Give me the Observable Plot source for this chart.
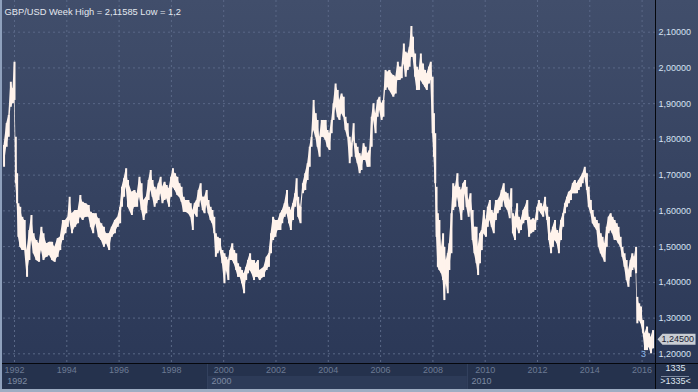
<!DOCTYPE html>
<html><head><meta charset="utf-8">
<script src="https://cdn.jsdelivr.net/npm/d3@7"></script>
<script src="https://cdn.jsdelivr.net/npm/@observablehq/plot@0.6"></script>
<style>
html,body{margin:0;padding:0;background:#25324d;}
#wrap{position:relative;width:698px;height:392px;overflow:hidden;
 background:linear-gradient(to bottom,#414e6b 0px,#2b3857 363px,#25324d 363px,#25324d 392px);}
#wrap svg{position:absolute;left:0;top:0;}
</style></head><body><div id="wrap"></div>
<script>
// Weekly GBP/USD bars: chart position (year), high, low
const weeks = [
1991.60,1991.70,1991.78,1991.86,1991.94,1992.00,1992.05,1992.10,1992.15,1992.22,1992.30,1992.39,1992.48,1992.57,1992.65,1992.73,1992.84,1992.94,
1993.03,1993.11,1993.23,1993.34,1993.44,1993.54,1993.65,1993.75,1993.85,1993.95,1994.04,1994.11,1994.20,1994.32,1994.43,1994.52,1994.61,1994.72,1994.84,1994.92,
1995.01,1995.11,1995.22,1995.32,1995.42,1995.52,1995.62,1995.72,1995.84,1995.95,1996.04,1996.11,1996.19,1996.27,1996.34,
1996.49,1996.59,1996.69,1996.78,1996.86,1996.94,1997.04,1997.13,1997.21,1997.28,1997.36,1997.43,1997.51,1997.59,1997.66,1997.74,1997.82,1997.91,1997.99,
1998.06,1998.14,1998.23,1998.31,1998.39,1998.47,1998.55,1998.65,1998.74,1998.82,1998.89,1998.97,1999.04,1999.12,1999.20,1999.27,1999.35,1999.42,1999.50,1999.57,1999.64,1999.70,1999.77,1999.86,1999.95,
2000.03,2000.10,2000.18,2000.25,2000.33,2000.40,2000.48,2000.55,2000.63,2000.70,2000.78,2000.86,2000.93,2001.01,2001.08,2001.16,2001.23,2001.31,2001.38,
2001.54,2001.64,2001.73,2001.81,2001.89,2001.98,2002.08,2002.17,2002.24,2002.33,2002.42,2002.50,2002.57,2002.65,2002.73,2002.79,2002.85,2002.94,
2003.03,2003.12,2003.21,2003.29,2003.36,2003.44,2003.52,2003.59,2003.67,2003.75,2003.82,2003.90,2003.97,2004.05,2004.13,2004.20,2004.28,2004.36,2004.43,2004.51,2004.59,2004.66,2004.74,2004.82,2004.89,2004.97,
2005.05,2005.12,2005.20,2005.27,2005.35,2005.43,2005.50,2005.58,2005.66,2005.73,2005.81,2005.89,2005.96,2006.04,2006.11,2006.19,2006.27,2006.34,
2006.49,2006.58,2006.66,2006.73,2006.81,2006.89,2006.96,2007.04,2007.11,2007.18,2007.24,2007.32,2007.39,2007.47,2007.54,2007.62,2007.70,2007.77,2007.85,2007.92,2007.99,
2008.04,2008.09,2008.14,2008.19,2008.25,2008.33,2008.39,2008.44,2008.51,2008.57,2008.63,2008.71,2008.78,2008.86,2008.94,2009.01,2009.09,2009.16,2009.23,2009.29,2009.37,2009.44,2009.52,2009.59,2009.67,2009.73,2009.80,2009.87,2009.95,
2010.03,2010.10,2010.18,2010.25,2010.33,2010.41,2010.48,2010.56,2010.63,2010.71,2010.78,2010.86,2010.94,2011.00,2011.06,2011.14,2011.22,2011.29,2011.37,
2011.46,2011.53,2011.61,2011.68,2011.76,2011.84,2011.91,2011.99,2012.06,2012.14,2012.22,2012.29,2012.37,2012.44,2012.52,2012.59,2012.67,2012.75,2012.82,2012.90,2012.98,
2013.05,2013.13,2013.20,2013.28,2013.35,2013.43,2013.51,2013.58,2013.66,2013.73,2013.81,2013.89,2013.96,2014.04,2014.11,2014.19,2014.27,2014.34,2014.42,2014.49,2014.57,2014.65,2014.72,2014.80,2014.87,2014.95,
2015.03,2015.10,2015.18,2015.25,2015.33,2015.41,2015.48,2015.56,2015.63,2015.71,2015.77,2015.82,2015.89,2015.96,2016.04,2016.11,2016.19,2016.27,2016.34,2016.42
];
const highs = [
1.783,1.844,1.867,1.960,1.941,2.016,1.806,1.704,1.620,1.610,1.582,1.573,1.489,1.545,1.587,1.536,1.517,1.508,
1.554,1.536,1.508,1.512,1.512,1.498,1.522,1.526,1.573,1.573,1.582,1.638,1.592,1.601,1.601,1.643,1.624,1.620,1.615,1.596,
1.592,1.592,1.578,1.564,1.554,1.536,1.536,1.554,1.573,1.582,1.610,1.666,1.690,1.718,1.685,
1.652,1.657,1.648,1.694,1.676,1.629,1.638,1.685,1.713,1.685,1.666,1.657,1.676,1.694,1.666,1.680,1.671,1.662,1.694,
1.718,1.704,1.694,1.676,1.666,1.638,1.629,1.629,1.620,1.601,1.620,1.629,1.657,1.676,1.638,1.638,1.657,1.629,1.610,1.601,1.582,1.536,1.526,1.522,1.489,
1.480,1.470,1.461,1.489,1.508,1.489,1.480,1.452,1.442,1.433,1.424,1.442,1.461,1.480,1.461,1.461,1.452,1.461,1.433,
1.442,1.470,1.480,1.536,1.582,1.573,1.573,1.592,1.601,1.620,1.657,1.610,1.601,1.620,1.648,1.690,1.638,1.610,
1.676,1.704,1.732,1.778,1.806,1.909,1.872,1.853,1.806,1.853,1.853,1.853,1.825,1.816,1.853,1.900,1.955,1.937,1.909,1.927,1.918,1.862,1.844,1.806,1.788,1.844,
1.788,1.778,1.760,1.750,1.788,1.778,1.760,1.769,1.862,1.900,1.872,1.909,1.918,1.900,1.909,1.993,1.988,1.993,
1.979,1.974,2.016,2.002,2.002,2.067,2.044,2.039,2.058,2.116,2.086,2.039,2.002,1.993,2.039,2.011,1.993,1.983,2.002,2.016,1.974,
1.872,1.816,1.666,1.592,1.573,1.498,1.536,1.498,1.461,1.480,1.508,1.592,1.676,1.666,1.704,1.666,1.657,1.676,1.685,1.666,1.629,1.648,1.601,1.554,1.554,1.498,1.536,1.545,1.601,
1.573,1.610,1.629,1.601,1.592,1.629,1.629,1.638,1.657,1.676,1.652,1.648,1.629,1.662,1.592,1.582,1.620,1.582,1.573,
1.601,1.610,1.629,1.582,1.573,1.578,1.573,1.610,1.629,1.620,1.610,1.638,1.610,1.582,1.536,1.554,1.573,1.545,1.536,1.573,1.592,
1.620,1.638,1.652,1.657,1.676,1.685,1.676,1.685,1.694,1.704,1.722,1.704,1.666,1.629,1.601,1.582,1.573,1.564,1.536,1.526,1.508,1.554,1.582,1.592,1.582,1.573,
1.564,1.554,1.526,1.498,1.480,1.461,1.433,1.461,1.480,1.470,1.498,1.358,1.340,1.331,1.293,1.256,1.275,1.256,1.246,1.265
];
const lows = [
1.722,1.778,1.806,1.890,1.900,1.909,1.676,1.620,1.526,1.498,1.489,1.489,1.414,1.461,1.517,1.480,1.461,1.456,
1.489,1.461,1.470,1.475,1.461,1.456,1.470,1.489,1.517,1.536,1.554,1.573,1.536,1.554,1.564,1.582,1.573,1.582,1.582,1.554,
1.536,1.564,1.526,1.517,1.498,1.508,1.489,1.526,1.536,1.554,1.564,1.610,1.638,1.666,1.610,
1.587,1.610,1.610,1.638,1.601,1.573,1.592,1.629,1.657,1.638,1.610,1.620,1.629,1.648,1.620,1.629,1.634,1.610,1.638,
1.666,1.657,1.643,1.638,1.624,1.596,1.596,1.592,1.582,1.545,1.592,1.582,1.610,1.629,1.601,1.592,1.615,1.592,1.573,1.564,1.536,1.470,1.480,1.489,1.452,
1.396,1.433,1.405,1.461,1.461,1.452,1.433,1.414,1.414,1.396,1.368,1.405,1.424,1.433,1.424,1.405,1.414,1.414,1.405,
1.414,1.433,1.442,1.480,1.517,1.526,1.545,1.545,1.564,1.582,1.592,1.564,1.545,1.573,1.610,1.629,1.582,1.564,
1.648,1.657,1.685,1.722,1.778,1.825,1.806,1.778,1.750,1.806,1.806,1.797,1.778,1.769,1.816,1.853,1.890,1.862,1.853,1.872,1.862,1.825,1.806,1.732,1.750,1.797,
1.750,1.732,1.704,1.713,1.741,1.741,1.722,1.722,1.778,1.853,1.816,1.862,1.881,1.853,1.862,1.937,1.946,1.937,
1.918,1.927,1.965,1.965,1.970,2.011,1.974,1.993,2.002,2.030,2.030,1.974,1.937,1.937,1.965,1.955,1.946,1.937,1.955,1.965,1.816,
1.750,1.676,1.526,1.442,1.433,1.424,1.405,1.349,1.396,1.368,1.433,1.480,1.601,1.610,1.638,1.610,1.573,1.601,1.648,1.610,1.582,1.601,1.517,1.480,1.452,1.419,1.452,1.489,1.536,
1.526,1.554,1.573,1.554,1.536,1.573,1.592,1.601,1.610,1.629,1.610,1.601,1.578,1.610,1.536,1.517,1.554,1.536,1.545,
1.564,1.573,1.573,1.526,1.536,1.540,1.545,1.573,1.601,1.592,1.582,1.601,1.573,1.517,1.480,1.498,1.517,1.508,1.480,1.517,1.554,
1.592,1.610,1.620,1.629,1.648,1.648,1.648,1.657,1.666,1.676,1.694,1.657,1.610,1.592,1.564,1.554,1.545,1.498,1.480,1.470,1.456,1.498,1.536,1.545,1.536,1.517,
1.517,1.508,1.498,1.470,1.442,1.405,1.386,1.414,1.433,1.442,1.424,1.284,1.293,1.284,1.256,1.209,1.209,1.218,1.200,1.214
];
const yTicks = [1.2,1.3,1.4,1.5,1.6,1.7,1.8,1.9,2.0,2.1];
const xTicks = [1992,1994,1996,1998,2000,2002,2004,2006,2008,2010,2012,2014,2016];
const decadeStarts = [1991.57,1999.38,2009.32];
const decadeEnds = [1999.38,2009.32,2016.52];
const decadeLabels = ["1992","2000","2010"];
const titleText = "GBP/USD Week High = 2,11585 Low = 1,2";
const lastClose = 1.245;
const barCount = "1335";

const data = weeks.map((t,i)=>({t, hi: highs[i], lo: lows[i]}));
const fmtY = d => d.toFixed(5).replace(".", ",");
const FONT = "'Liberation Sans', Arial, sans-serif";
const barColor = "#fff3ec";
const gridColor = "#5a6887";

const tagSymbol = {draw(ctx){ ctx.moveTo(2,0); ctx.lineTo(7,-5.5); ctx.lineTo(40,-5.5); ctx.lineTo(40,5.5); ctx.lineTo(7,5.5); ctx.closePath(); }};

const chart = Plot.plot({
  width: 698, height: 392,
  marginLeft: 3, marginRight: 43, marginTop: 0, marginBottom: 29,
  style: {background: "transparent", overflow: "visible", fontFamily: FONT},
  x: {domain: [1991.579, 2016.513], axis: null},
  y: {domain: [1.1729, 2.1887], axis: null},
  marks: [
    Plot.ruleY(yTicks, {stroke: gridColor, strokeDasharray: "2,3"}),
    Plot.ruleX(xTicks, {stroke: gridColor, strokeDasharray: "2,3"}),
    Plot.areaY(data, {x: "t", y1: "lo", y2: "hi", fill: barColor}),
    Plot.ruleX(data, {x: "t", y1: "lo", y2: "hi", stroke: barColor, strokeWidth: 2}),
    Plot.text([titleText], {frameAnchor: "top-left", dx: 1, dy: 7.5, text: d => d, textAnchor: "start", fill: "#e4e8ef", fontSize: 9.3}),
    Plot.text(yTicks, {y: d => d, frameAnchor: "right", dx: 3, text: fmtY, textAnchor: "start", fill: "#d6e2f2", fontSize: 9}),
    Plot.text(xTicks, {x: d => d, frameAnchor: "bottom", dy: 9, text: d => String(d), textAnchor: "middle", fill: "#6c7a93", fontSize: 9}),
    Plot.text(decadeStarts, {x: d => d, frameAnchor: "bottom", dy: 20, dx: 4, text: (d,i) => decadeLabels[i], textAnchor: "start", fill: "#7d8aa2", fontSize: 9}),
    Plot.text(["3"], {x: 2016.05, frameAnchor: "bottom", dy: -6.5, text: d => d, textAnchor: "middle", fill: "#8db6e6", fontSize: 9}),
    Plot.dot([lastClose], {y: d => d, frameAnchor: "right", dy: 1.5, symbol: tagSymbol, r: 5, fill: "#c9cdd3", stroke: "none"}),
    Plot.text([lastClose], {y: d => d, frameAnchor: "right", dx: 6, dy: 1.5, text: fmtY, textAnchor: "start", fill: "#1b2233", fontSize: 9}),
    Plot.text([barCount], {frameAnchor: "bottom-right", dx: 20, dy: 7, text: d => d, textAnchor: "middle", fill: "#dfe5ee", fontSize: 9}),
    Plot.text([">" + barCount + "<"], {frameAnchor: "bottom-right", dx: 20, dy: 20, text: d => d, textAnchor: "middle", fill: "#dfe5ee", fontSize: 9})
  ]
});
document.getElementById("wrap").appendChild(chart);

// decorative frame pieces (bottom date band, separators, borders)
const svgSel = d3.select(chart);
const xsInfo = chart.scale("x");
const xPos = d3.scaleLinear().domain(xsInfo.domain).range(xsInfo.range);
const decoG = svgSel.insert("g", ":first-child");
decoG.selectAll("rect").data(decadeStarts).join("rect")
  .attr("x", d => xPos(d)).attr("width", (d,i) => xPos(decadeEnds[i]) - xPos(d))
  .attr("y", 376).attr("height", 13)
  .attr("fill", (d,i) => i === 1 ? "#2d3b58" : "none");
decoG.selectAll("line").data(decadeStarts.slice(1)).join("line")
  .attr("x1", d => xPos(d) + 0.5).attr("x2", d => xPos(d) + 0.5).attr("y1", 363).attr("y2", 389)
  .attr("stroke", "#34425f");
const overG = svgSel.append("g");
overG.append("line").attr("x1", 0).attr("x2", 698).attr("y1", 363.5).attr("y2", 363.5).attr("stroke", "#05070c");
overG.append("line").attr("x1", 655.5).attr("x2", 655.5).attr("y1", 0).attr("y2", 392).attr("stroke", "#05070c");
overG.append("line").attr("x1", 661).attr("x2", 689).attr("y1", 376.5).attr("y2", 376.5).attr("stroke", "#7d8aa2");
overG.append("rect").attr("x", 0).attr("y", 0).attr("width", 2).attr("height", 392).attr("fill", "#8fa1bd");
overG.append("rect").attr("x", 0).attr("y", 389).attr("width", 698).attr("height", 3).attr("fill", "#9eadc3");
</script></body></html>
